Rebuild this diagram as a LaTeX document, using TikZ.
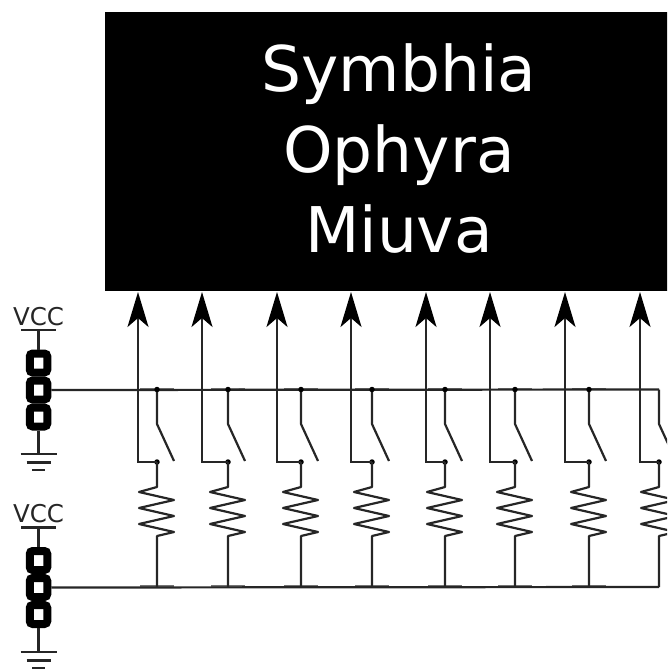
\documentclass[tikz,border=0pt]{standalone}
\usepackage{fontspec}
\setmainfont{DejaVu Sans}
\usetikzlibrary{arrows.meta}
\definecolor{wirecol}{gray}{0.15}
\tikzset{
  x=1pt,y=-1pt,
  wire/.style={draw=wirecol,line width=2.2pt},
  tick/.style={draw=black!55,line width=1.2pt},
  barline/.style={draw=wirecol,line width=2.2pt},
  title/.style={text=white,font=\fontsize{63}{63}\selectfont,inner sep=0pt,anchor=base},
  vcc/.style={text=black!85,font=\fontsize{24.5}{25}\selectfont,inner sep=0pt,anchor=base},
  pin/.style={draw=black,line width=8pt,rounded corners=3pt,minimum width=17.5pt,minimum height=19pt,inner sep=0pt,outer sep=4pt},
  dot/.style={circle,fill=black,inner sep=0pt,minimum size=5.5pt},
  head/.style={-{Stealth[length=35pt,width=21pt,inset=9pt,color=black]}},
}
\begin{document}
\begin{tikzpicture}
\useasboundingbox (0,0) rectangle (667,669);
\clip (0,0) rectangle (667,669);
\node[fill=black,inner sep=0pt,minimum width=590pt,minimum height=279pt,anchor=north west] (chip) at (105,12) {};
\node[title] (t1) at (399,91) {Symbhia};
\node[title] (t2) at (399,172) {Ophyra};
\node[title] (t3) at (399,252) {Miuva};
% jumpers
\foreach \n/\yv/\yb/\yg in {a/325/330/454, b/522.5/527.5/652}{
  \node[vcc] (vcc\n) at (38.5,\yv) {VCC};
  \coordinate (bar\n) at (38.5,\yb);
  \coordinate (gnd\n) at (38.5,\yg);
  \draw[barline] ([xshift=-17.5pt]bar\n) -- ([xshift=17.5pt]bar\n);
  \draw[barline] ([xshift=-18pt]gnd\n) -- ([xshift=18pt]gnd\n);
  \draw[barline] ([xshift=-12pt,yshift=-8.5pt]gnd\n) -- ([xshift=12pt,yshift=-8.5pt]gnd\n);
  \draw[barline] ([xshift=-6.5pt,yshift=-16pt]gnd\n) -- ([xshift=6.5pt,yshift=-16pt]gnd\n);
  \node[pin] (p\n1) at (38.5,\yb+33) {};
  \node[pin] (p\n2) at (38.5,\yb+60) {};
  \node[pin] (p\n3) at (38.5,\yb+87) {};
  \draw[wire] (bar\n) -- (p\n1.north);
  \draw[wire] (p\n3.south) -- (gnd\n);
}
% buses
\coordinate (ta) at (659,389.5);
\coordinate (tb) at (659,587);
% ticks on the buses
\foreach \sx in {157,228,301,372,445,515,589}{
  \draw[tick] (\sx-17,389) -- (\sx+17,389);
  \draw[tick] (\sx-17,586) -- (\sx+17,586);
}
\draw[wire] (pa2.east) -- (ta);
\draw[wire] (pb2.east) -- (tb);
% channels
\foreach \i/\ax/\sx in {1/138/157,2/202/228,3/277/301,4/351/372,5/426/445,6/490/515,7/565/589,8/640/659}{
  \coordinate (top\i) at (\sx,389.5);
  \coordinate (kink\i) at (\sx,424);
  \coordinate (free\i) at (\sx+17,461);
  \coordinate (mid\i) at (\sx,462);
  \coordinate (low\i) at (\sx,587);
  \coordinate (in\i) at (\ax,292);
  \node[dot] (dm\i) at (mid\i) {};
  \draw[wire,line join=round] (top\i) -- (kink\i) -- (free\i);
  \draw[wire,head] (mid\i) -- (\ax,462) -- (in\i);
  \draw[wire,line join=round] (mid\i) -- (\sx,487) -- (\sx-18,492) -- (\sx+17,500) -- (\sx-18,508)
     -- (\sx+17,516) -- (\sx-18,524) -- (\sx+17,532) -- (\sx,536) -- (low\i);
}
\foreach \i in {1,...,7}{
  \node[dot] (dt\i) at (top\i) {};
}
\end{tikzpicture}
\end{document}
